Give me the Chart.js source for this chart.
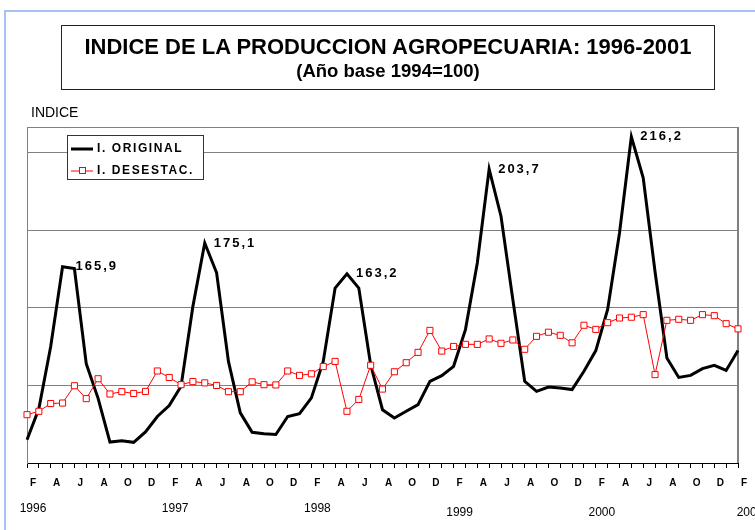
<!DOCTYPE html>
<html>
<head>
<meta charset="utf-8">
<script src="https://cdn.jsdelivr.net/npm/chart.js@4/dist/chart.umd.min.js"></script>
<style>
  body { margin: 0; width: 755px; height: 530px; overflow: hidden; position: relative; background: #fff;
         font-family: "Liberation Sans", Arial, sans-serif; }
  #frame { position: absolute; left: 4px; top: 10px; width: 800px; height: 600px;
           border-left: 2px solid #a7c3f3; border-top: 2px solid #a7c3f3; }
  #titleBox { position: absolute; left: 61px; top: 25px; width: 652px; height: 63px; border: 1px solid #222; }
  .t { position: absolute; left: 0; width: 776px; text-align: center; font-weight: bold; color: #000; white-space: nowrap; }
  #title { top: 36px; font-size: 22px; line-height: 22px; }
  #subtitle { top: 61px; font-size: 18.5px; line-height: 20px; }
  #ylabel { position: absolute; left: 31px; top: 104px; font-size: 14px; line-height: 16px; color: #000; }
  canvas { position: absolute; left: 0; top: 0; }
</style>
</head>
<body>
<div id="frame"></div>
<canvas id="chart" width="755" height="530"></canvas>
<div id="titleBox"></div>
<div class="t" id="title">INDICE DE LA PRODUCCION AGROPECUARIA: 1996-2001</div>
<div class="t" id="subtitle">(Año base 1994=100)</div>
<div id="ylabel">INDICE</div>
<script>
// meses feb-1996 .. feb-2001
const months = [
  'F','M','A','M','J','J','A','S','O','N','D','E',
  'F','M','A','M','J','J','A','S','O','N','D','E',
  'F','M','A','M','J','J','A','S','O','N','D','E',
  'F','M','A','M','J','J','A','S','O','N','D','E',
  'F','M','A','M','J','J','A','S','O','N','D','E',
  'F'
];
const years = ['1996', '1997', '1998', '1999', '2000', '2001'];
const yearIdx = [0, 12, 24, 36, 48, 60];

const original = [
  99.0, 111.0, 135.1, 165.9, 165.2, 128.4, 115.0, 98.1, 98.6, 98.0, 102.0, 108.0,
  112.2, 119.7, 150.6, 175.1, 163.6, 129.3, 109.4, 101.9, 101.3, 101.0, 108.0, 109.1,
  115.2, 129.3, 157.7, 163.2, 157.7, 128.0, 110.6, 107.4, 110.0, 112.6, 121.6, 123.8,
  127.4, 141.6, 167.4, 203.7, 185.5, 153.2, 121.6, 117.7, 119.4, 119.0, 118.4, 125.5,
  133.5, 149.4, 179.0, 216.2, 200.3, 164.0, 130.6, 123.1, 123.9, 126.5, 127.8, 125.8,
  133.5
];
const desestac = [
  108.7, 110.0, 113.0, 113.2, 119.9, 114.9, 122.6, 116.7, 117.6, 116.9, 117.7, 125.6,
  123.1, 120.3, 121.5, 121.0, 120.0, 117.6, 117.6, 121.4, 120.3, 120.2, 125.6, 123.9,
  124.5, 127.3, 129.3, 110.0, 114.6, 127.8, 118.6, 125.3, 128.8, 132.8, 141.3, 133.3,
  135.1, 135.9, 135.9, 138.0, 136.3, 137.6, 134.0, 139.0, 140.6, 139.4, 136.5, 143.3,
  141.7, 144.3, 146.1, 146.4, 147.4, 124.2, 145.2, 145.6, 145.2, 147.4, 147.0, 143.9,
  141.9
];
// picos rotulados
const peakIdx = [3, 15, 27, 39, 51];
const yTicks = [90, 120, 150, 180, 210, 220];

const FONT = '"Liberation Sans", Arial, sans-serif';

const extras = {
  id: 'extras',
  beforeDatasetsDraw(chart) {
    const ctx = chart.ctx, a = chart.chartArea;
    ctx.save();
    ctx.strokeStyle = '#808080';
    ctx.lineWidth = 2;
    ctx.beginPath();
    ctx.moveTo(a.right, a.top);
    ctx.lineTo(a.right, a.bottom);
    ctx.stroke();
    ctx.restore();
  },
  afterDraw(chart) {
    const ctx = chart.ctx;
    const meta = chart.getDatasetMeta(0);
    const xs = chart.scales.x;
    ctx.save();
    // valores de los picos
    ctx.fillStyle = '#000';
    ctx.font = 'bold 13px ' + FONT;
    ctx.letterSpacing = '2px';
    ctx.textBaseline = 'middle';
    ctx.textAlign = 'left';
    peakIdx.forEach((i, k) => {
      const p = meta.data[i];
      ctx.fillText(original[i].toFixed(1).replace('.', ','), p.x + (k === 0 ? 13 : 9), p.y);
    });

    // años
    ctx.letterSpacing = '0px';
    ctx.font = '12px ' + FONT;
    ctx.textAlign = 'center';
    years.forEach((y, k) => {
      const x = xs.getPixelForValue(yearIdx[k]) + (k === years.length - 1 ? 12 : 6);
      ctx.fillText(y, x, k < 3 ? 509 : 513);
    });

    // leyenda
    const lx = 67, ly = 135, lw = 136, lh = 44;
    ctx.fillStyle = '#fff';
    ctx.fillRect(lx, ly, lw, lh);
    ctx.strokeStyle = '#333';
    ctx.lineWidth = 1;
    ctx.strokeRect(lx + 0.5, ly + 0.5, lw, lh);
    const ds = chart.data.datasets;
    const rows = [149, 171];
    ds.forEach((d, k) => {
      const y = rows[k];
      ctx.strokeStyle = d.borderColor;
      ctx.lineWidth = d.borderWidth;
      ctx.beginPath();
      ctx.moveTo(71, y);
      ctx.lineTo(93, y);
      ctx.stroke();
      if (d.pointRadius > 0) {
        ctx.fillStyle = '#fff';
        ctx.fillRect(79, y - 3, 6, 6);
        ctx.strokeRect(79.5, y - 3.5, 6, 6);
      }
      ctx.fillStyle = '#000';
      ctx.font = 'bold 12px ' + FONT;
      ctx.letterSpacing = '1.6px';
      ctx.textAlign = 'left';
      ctx.fillText(d.label, 97, y);
    });
    ctx.restore();
  }
};

const chart = new Chart(document.getElementById('chart'), {
  type: 'line',
  data: {
    labels: months,
    datasets: [
      {
        label: 'I. ORIGINAL',
        data: original,
        borderColor: '#000',
        borderWidth: 3,
        pointRadius: 0,
        tension: 0,
        order: 1
      },
      {
        label: 'I. DESESTAC.',
        data: desestac,
        borderColor: '#ff0000',
        borderWidth: 1,
        pointStyle: 'rect',
        pointRadius: 4.3,
        pointBackgroundColor: '#fff',
        pointBorderColor: '#ff0000',
        pointBorderWidth: 1,
        tension: 0,
        order: 0
      }
    ]
  },
  options: {
    responsive: false,
    animation: false,
    devicePixelRatio: 1,
    layout: { padding: { left: 27, right: 17, top: 127, bottom: 32 } },
    plugins: {
      legend: { display: false },
      tooltip: { enabled: false }
    },
    scales: {
      x: {
        grid: { drawOnChartArea: false, tickLength: 5, color: '#000' },
        border: { color: '#000' },
        ticks: {
          autoSkip: false,
          maxRotation: 0,
          padding: 9,
          labelOffset: 6,
          color: '#000',
          font: { family: FONT, size: 10, weight: 'bold' },
          callback: (v, i) => (i % 2 === 0 ? months[i] : '')
        }
      },
      y: {
        min: 90,
        max: 220,
        afterBuildTicks: s => { s.ticks = yTicks.map(v => ({ value: v })); },
        ticks: { display: false },
        grid: { color: '#808080', drawTicks: false },
        border: { color: '#808080' }
      }
    }
  },
  plugins: [extras]
});
</script>
</body>
</html>
